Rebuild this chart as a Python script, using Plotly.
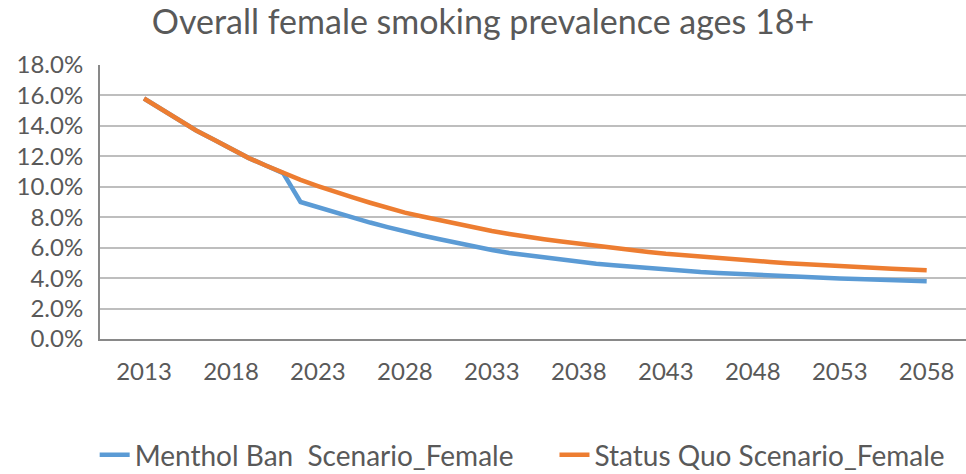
import plotly.graph_objects as go

years = list(range(2013, 2059))

status_quo = [15.8, 15.1, 14.4, 13.7, 13.1, 12.5, 11.9, 11.4, 10.9, 10.45,
              10.05, 9.65, 9.3, 8.95, 8.6, 8.3, 8.05, 7.8, 7.55, 7.3,
              7.1, 6.9, 6.7, 6.55, 6.4, 6.25, 6.1, 5.95, 5.85, 5.72,
              5.6, 5.5, 5.4, 5.3, 5.22, 5.14, 5.06, 4.98, 4.91, 4.85,
              4.79, 4.73, 4.67, 4.62, 4.57, 4.52]

menthol_ban = [15.8, 15.1, 14.4, 13.7, 13.1, 12.5, 11.9, 11.4, 10.9, 9.0,
               8.65, 8.3, 7.95, 7.65, 7.35, 7.05, 6.8, 6.55, 6.3, 6.05,
               5.85, 5.65, 5.5, 5.35, 5.2, 5.07, 4.95, 4.84, 4.74, 4.64,
               4.55, 4.47, 4.4, 4.34, 4.28, 4.22, 4.17, 4.12, 4.07, 4.02,
               3.98, 3.94, 3.9, 3.86, 3.83, 3.8]

tick_years = list(range(2013, 2059, 5))
y_ticks = [i / 100 for i in range(0, 19, 2)]

FONT = "Lato"
TXT = "#595959"

fig = go.Figure()
fig.add_trace(go.Scatter(
    x=years, y=[v / 100 for v in menthol_ban], mode="lines",
    name="Menthol Ban  Scenario_Female", legend="legend",
    line=dict(color="#5B9BD5", width=4.5)))
fig.add_trace(go.Scatter(
    x=years, y=[v / 100 for v in status_quo], mode="lines",
    name="Status Quo Scenario_Female", legend="legend2",
    line=dict(color="#ED7D31", width=4.5)))

leg_common = dict(orientation="h", xref="container", yref="container",
                  xanchor="left", y=1 - 455 / 474, yanchor="middle",
                  font=dict(size=28, family=FONT, color=TXT), itemwidth=30,
                  bgcolor="rgba(0,0,0,0)")

fig.update_layout(
    width=966, height=474,
    margin=dict(l=100, r=0, t=65, b=134.5),
    paper_bgcolor="white", plot_bgcolor="white",
    font=dict(family=FONT, color=TXT, size=24),
    title=dict(text="Overall female smoking prevalence ages 18+",
               x=0.5, xanchor="center", y=1 - 22 / 474, yanchor="middle",
               font=dict(size=34, family=FONT, color=TXT)),
    showlegend=True,
    legend=dict(x=0.098, **leg_common),
    legend2=dict(x=0.574, **leg_common),
    xaxis=dict(range=[2010.47, 2060.26], tickmode="array", tickvals=tick_years,
               ticktext=[str(y) for y in tick_years], showgrid=False,
               showline=True, linecolor="#898989", linewidth=2,
               ticks="", zeroline=False, ticklabelstandoff=10),
    yaxis=dict(range=[0, 0.18], tickmode="array", tickvals=y_ticks,
               tickformat=".1%", showgrid=True, gridcolor="#BEBEBE", gridwidth=2,
               showline=True, linecolor="#898989", linewidth=2,
               ticks="", zeroline=False, ticklabelstandoff=10),
)

fig.write_html("out.html")
